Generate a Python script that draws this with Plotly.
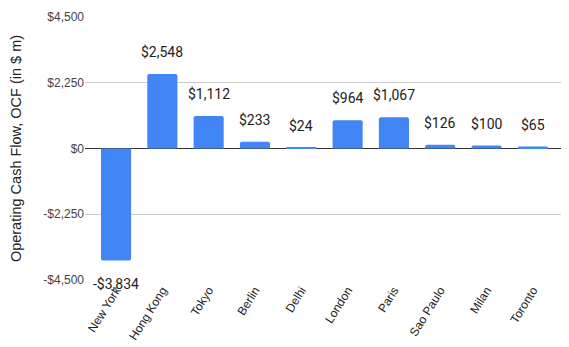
import plotly.graph_objects as go

cities = ["New York", "Hong Kong", "Tokyo", "Berlin", "Delhi", "London",
          "Paris", "Sao Paulo", "Milan", "Toronto"]
ocf = [-3834, 2548, 1112, 233, 24, 964, 1067, 126, 100, 65]
labels = ["-$3,834", "$2,548", "$1,112", "$233", "$24", "$964", "$1,067",
          "$126", "$100", "$65"]
ytick_vals = [-4500, -2250, 0, 2250, 4500]
ytick_text = ["-$4,500", "-$2,250", "$0", "$2,250", "$4,500"]

ARIAL = "Liberation Sans, Arial, sans-serif"

fig = go.Figure()
fig.add_trace(go.Bar(
    x=list(range(len(cities))), y=ocf,
    marker=dict(color="#4285F4", cornerradius=2, line=dict(width=0)),
    width=0.65, hoverinfo="skip",
))

for i, (v, t) in enumerate(zip(ocf, labels)):
    fig.add_annotation(
        x=i, y=v, text=t, showarrow=False, yanchor="middle",
        yshift=22 if v >= 0 else -23,
        font=dict(family="Roboto, Arial, sans-serif", size=14, color="#222222"),
    )

# page body has an 8px default margin; compensate so the plot sits where the reference does
fig.update_layout(
    width=561, height=339,
    margin=dict(l=77, r=6, t=9, b=67, autoexpand=False),
    paper_bgcolor="white", plot_bgcolor="white",
    showlegend=False,
    font=dict(family=ARIAL, color="#222222"),
)
fig.update_xaxes(
    tickmode="array", tickvals=list(range(len(cities))), ticktext=cities,
    tickangle=-58, tickfont=dict(family=ARIAL, size=12, color="#222222"),
    range=[-0.67, 9.65], showgrid=False, zeroline=False, showline=False,
    ticks="", automargin=False,
)
fig.update_yaxes(
    range=[-4500, 4500], tickmode="array", tickvals=ytick_vals,
    ticktext=ytick_text, tickfont=dict(family=ARIAL, size=12, color="#444444"),
    showgrid=True, gridcolor="#cccccc", gridwidth=1,
    zeroline=True, zerolinecolor="#333333", zerolinewidth=1,
    title=dict(text="Operating Cash Flow, OCF (in $ m)",
               font=dict(family=ARIAL, size=14.5, color="#222222"), standoff=30),
    ticks="", ticklen=0, automargin=False,
)

fig.write_html("out.html")
